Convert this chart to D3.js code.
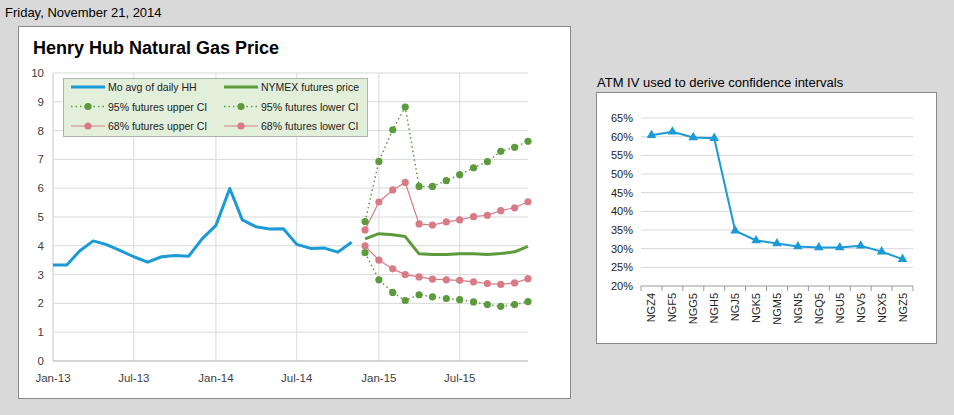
<!DOCTYPE html>
<html><head><meta charset="utf-8">
<script src="https://cdn.jsdelivr.net/npm/d3@7"></script>
<style>body{margin:0;background:#d9d9d9}svg{display:block}</style></head>
<body><svg id="c" width="954" height="415"></svg>
<script>
const hhMonths = ["2013-01","2013-02","2013-03","2013-04","2013-05","2013-06","2013-07","2013-08","2013-09","2013-10","2013-11","2013-12","2014-01","2014-02","2014-03","2014-04","2014-05","2014-06","2014-07","2014-08","2014-09","2014-10","2014-11"];
const hhValues = [3.33,3.33,3.81,4.17,4.04,3.83,3.62,3.43,3.62,3.66,3.64,4.24,4.71,5.99,4.90,4.66,4.58,4.59,4.05,3.91,3.92,3.78,4.12];
const futMonths = ["2014-12","2015-01","2015-02","2015-03","2015-04","2015-05","2015-06","2015-07","2015-08","2015-09","2015-10","2015-11","2015-12"];
const futures = [4.24,4.42,4.38,4.32,3.72,3.70,3.70,3.72,3.72,3.70,3.73,3.79,3.98];
const upper95 = [4.84,6.93,8.03,8.82,6.06,6.06,6.26,6.47,6.71,6.92,7.28,7.42,7.63];
const lower95 = [3.76,2.82,2.38,2.10,2.30,2.23,2.17,2.13,2.05,1.96,1.90,1.96,2.06];
const upper68 = [4.55,5.52,5.94,6.20,4.76,4.72,4.83,4.90,5.01,5.06,5.22,5.32,5.53];
const lower68 = [4.00,3.50,3.20,3.00,2.92,2.84,2.82,2.80,2.75,2.69,2.66,2.71,2.86];
const xTicks = ["2013-01","2013-07","2014-01","2014-07","2015-01","2015-07"];
const contracts = ["NGZ4","NGF5","NGG5","NGH5","NGJ5","NGK5","NGM5","NGN5","NGQ5","NGU5","NGV5","NGX5","NGZ5"];
const atmIV = [60.4,61.3,59.8,59.6,34.8,32.2,31.4,30.6,30.3,30.3,30.8,29.2,27.2];

const BLUE="#1a9ad6", GREEN="#5b9b3b", PINK="#d97a86", GRID="#d9d9d9";
const FONT="'Liberation Sans', Arial, sans-serif";
const svg=d3.select("#c").style("font-family",FONT);
const pm=d3.timeParse("%Y-%m");
const fmt=d3.timeFormat("%b-%y");

svg.append("text").attr("x",5).attr("y",17).attr("font-size",13).attr("fill","#000").text("Friday, November 21, 2014");

// left box
svg.append("rect").attr("x",18.5).attr("y",26.5).attr("width",552).attr("height",372).attr("fill","#fff").attr("stroke","#888");
svg.append("text").attr("x",33).attr("y",54).attr("font-size",18).attr("font-weight","bold").text("Henry Hub Natural Gas Price");

const x=d3.scaleTime().domain([pm("2013-01"),pm("2015-12")]).range([53,528]);
const y=d3.scaleLinear().domain([0,10]).range([361,73]);
const g=svg.append("g");
y.ticks(10).forEach(t=>{g.append("line").attr("x1",53).attr("x2",528).attr("y1",y(t)).attr("y2",y(t)).attr("stroke",GRID);
 g.append("text").attr("x",44).attr("y",y(t)+4).attr("text-anchor","end").attr("font-size",11.5).attr("fill","#404040").text(t);});
xTicks.forEach(s=>{const d=pm(s);g.append("line").attr("x1",x(d)).attr("x2",x(d)).attr("y1",73).attr("y2",361).attr("stroke",GRID);
 g.append("text").attr("x",x(d)).attr("y",382).attr("text-anchor","middle").attr("font-size",11.5).attr("fill","#404040").text(fmt(d));});
g.append("line").attr("x1",53).attr("x2",53).attr("y1",73).attr("y2",361).attr("stroke",GRID);
g.append("line").attr("x1",53).attr("x2",528).attr("y1",361).attr("y2",361).attr("stroke","#bfbfbf");

const line=d3.line().x(d=>x(d[0])).y(d=>y(d[1]));
const hh=hhMonths.map((m,i)=>[pm(m),hhValues[i]]);
const ser=a=>futMonths.map((m,i)=>[pm(m),a[i]]);
function draw(data,color,w,dash,dots){
 g.append("path").attr("d",line(data)).attr("fill","none").attr("stroke",color).attr("stroke-width",w).attr("stroke-dasharray",dash||null).attr("stroke-linejoin","round");
 if(dots) data.forEach(d=>g.append("circle").attr("cx",x(d[0])).attr("cy",y(d[1])).attr("r",3.6).attr("fill",color));
}
draw(hh,BLUE,3);
draw(ser(futures),GREEN,3);
draw(ser(upper68),PINK,1.2,null,true);
draw(ser(lower68),PINK,1.2,null,true);
draw(ser(upper95),GREEN,1.5,"1.5,3",true);
draw(ser(lower95),GREEN,1.5,"1.5,3",true);

// legend
const lg=svg.append("g");
lg.append("rect").attr("x",63.5).attr("y",78.5).attr("width",304).attr("height",58).attr("fill","#e2efda").attr("stroke","#b0b0b0");
const items=[["Mo avg of daily HH",BLUE,3,null,false],["NYMEX futures price",GREEN,3,null,false],
 ["95% futures upper CI",GREEN,1.5,"1.5,3",true],["95% futures lower CI",GREEN,1.5,"1.5,3",true],
 ["68% futures upper CI",PINK,1.2,null,true],["68% futures lower CI",PINK,1.2,null,true]];
items.forEach((it,i)=>{const cx=i%2?224:71, cy=87+Math.floor(i/2)*19.5;
 lg.append("line").attr("x1",cx).attr("x2",cx+34).attr("y1",cy).attr("y2",cy).attr("stroke",it[1]).attr("stroke-width",it[2]).attr("stroke-dasharray",it[3]);
 if(it[4]) lg.append("circle").attr("cx",cx+17).attr("cy",cy).attr("r",3.6).attr("fill",it[1]);
 lg.append("text").attr("x",cx+37).attr("y",cy+4).attr("font-size",10.5).attr("fill","#222").text(it[0]);});

// right chart
svg.append("text").attr("x",597).attr("y",87).attr("font-size",13).text("ATM IV used to derive confidence intervals");
svg.append("rect").attr("x",596.5).attr("y",92.5).attr("width",340).attr("height",251).attr("fill","#fff").attr("stroke","#888");
const xb=d3.scaleBand().domain(contracts).range([641,913]);
const y2=d3.scaleLinear().domain([20,65]).range([286,118]);
const r=svg.append("g");
d3.range(20,66,5).forEach(t=>{r.append("line").attr("x1",641).attr("x2",913).attr("y1",y2(t)).attr("y2",y2(t)).attr("stroke",t==20?"#999":GRID);
 r.append("text").attr("x",633).attr("y",y2(t)+4).attr("text-anchor","end").attr("font-size",11).attr("fill","#222").text(t+"%");});
contracts.concat([null]).forEach((c,i)=>{const xx=641+i*xb.bandwidth();r.append("line").attr("x1",xx).attr("x2",xx).attr("y1",286).attr("y2",291).attr("stroke","#999");});
contracts.forEach(c=>r.append("text").attr("transform",`translate(${xb(c)+xb.bandwidth()/2+4},${293}) rotate(-90)`).attr("text-anchor","end").attr("font-size",11).attr("fill","#222").text(c));
const l2=d3.line().x((d,i)=>xb(contracts[i])+xb.bandwidth()/2).y(d=>y2(d));
r.append("path").attr("d",l2(atmIV)).attr("fill","none").attr("stroke",BLUE).attr("stroke-width",2);
const tri=d3.symbol().type(d3.symbolTriangle).size(40);
atmIV.forEach((v,i)=>r.append("path").attr("d",tri()).attr("transform",`translate(${xb(contracts[i])+xb.bandwidth()/2},${y2(v)})`).attr("fill",BLUE));
</script></body></html>
